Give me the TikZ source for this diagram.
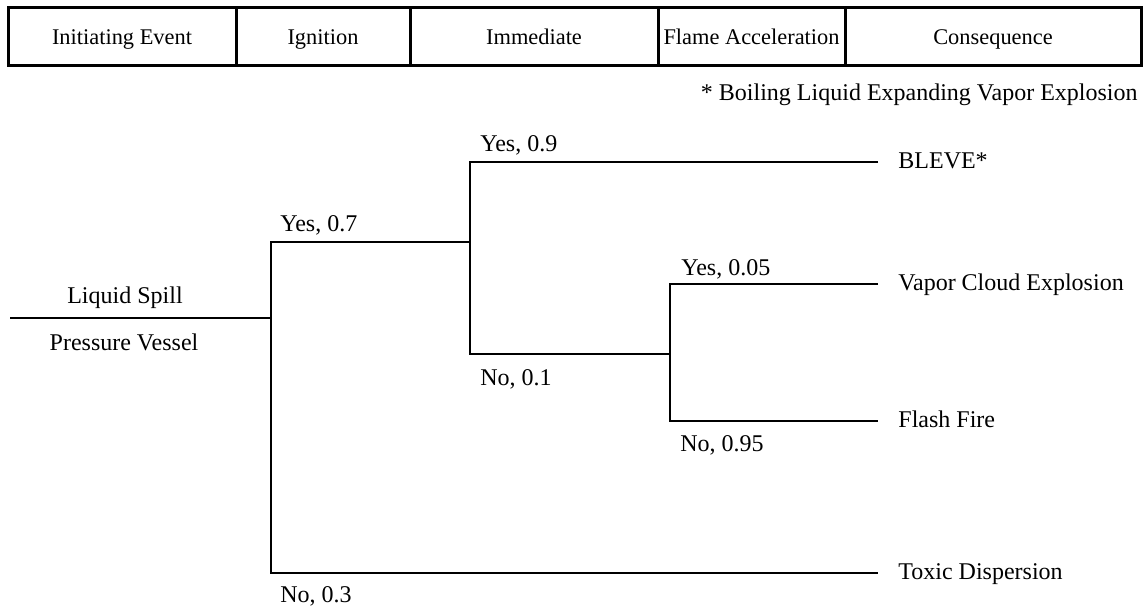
\documentclass[tikz,border=0pt]{standalone}
\usepackage{fontspec}
\setmainfont{Liberation Serif}
\usetikzlibrary{calc}
\begin{document}
\begin{tikzpicture}[x=0.5pt,y=-0.5pt,
  font=\fontsize{12}{14}\selectfont,
  frame/.style={line width=1.5pt},
  branch/.style={line width=1.4pt},
  head/.style={inner sep=0pt, anchor=base, font=\fontsize{11.2}{13}\selectfont},
  outcome/.style={anchor=west, inner xsep=10pt, inner ysep=0pt, text height=0.66em, text depth=0pt},
  prob/.style={anchor=base west, inner sep=0pt},
  plain/.style={inner sep=0pt, anchor=base}]
\useasboundingbox (0,0) rectangle (1144,610);
% header table
\draw[frame] (8,8) rectangle (1141,66);
\draw[frame] (236,8) -- (236,66);
\draw[frame] (410,8) -- (410,66);
\draw[frame] (658,8) -- (658,66);
\draw[frame] (845,8) -- (845,66);
\node[head] (h1) at (122,45) {Initiating Event};
\node[head] (h2) at (323,45) {Ignition};
\node[head] (h3) at (534,45) {Immediate};
\node[head] (h4) at (751.5,45) {Flame Acceleration};
\node[head] (h5) at (993,45) {Consequence};
\node[inner sep=0pt, anchor=base east] (note) at (1138,100) {* Boiling Liquid Expanding Vapor Explosion};
% tree points
\coordinate (root) at (10,318);
\coordinate (ign) at (271,318);
\coordinate (ignY) at (271,242);
\coordinate (ignN) at (271,573);
\coordinate (imm) at (470,242);
\coordinate (immY) at (470,162);
\coordinate (immN) at (470,354);
\coordinate (fl) at (670,354);
\coordinate (flY) at (670,284);
\coordinate (flN) at (670,421);
% outcomes
\node[outcome] (o1) at (878,162) {BLEVE*};
\node[outcome] (o2) at (878,284) {Vapor Cloud Explosion};
\node[outcome] (o3) at (878,421) {Flash Fire};
\node[outcome] (o4) at (878,573) {Toxic Dispersion};
% event labels
\node[plain] (ev1) at (125,303) {Liquid Spill};
\node[plain] (ev2) at (124,350) {Pressure Vessel};
% branches
\draw[branch] (root) -- (ign);
\draw[branch] (imm) -- (ignY) -- (ignN) -- (o4.west);
\draw[branch] (o1.west) -- (immY) -- (immN) -- (fl);
\draw[branch] (o2.west) -- (flY) -- (flN) -- (o3.west);
% probability labels
\node[prob] (p1) at ($(ignY)+(9,-11)$) {Yes, 0.7};
\node[prob] (p2) at ($(ignN)+(9,29)$) {No, 0.3};
\node[prob] (p3) at ($(immY)+(10,-11)$) {Yes, 0.9};
\node[prob] (p4) at ($(immN)+(10,31)$) {No, 0.1};
\node[prob] (p5) at ($(flY)+(11,-9)$) {Yes, 0.05};
\node[prob] (p6) at ($(flN)+(10,30)$) {No, 0.95};
\end{tikzpicture}
\end{document}
